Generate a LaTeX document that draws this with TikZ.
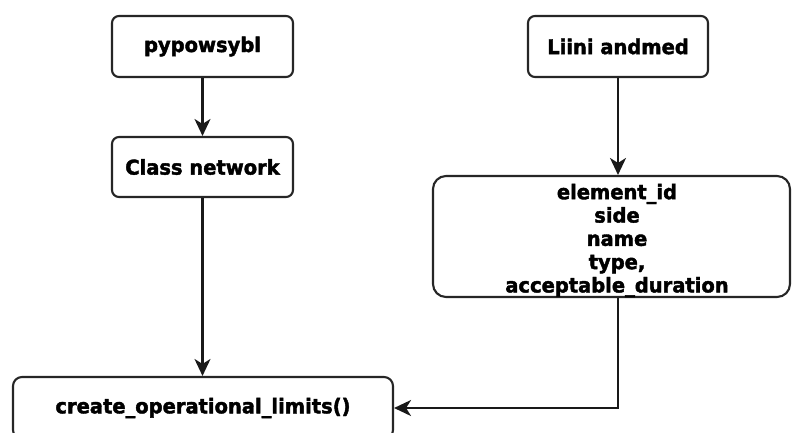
\documentclass[tikz,border=0pt]{standalone}
\usepackage{fontspec}
\setmainfont{DejaVu Sans}[BoldFeatures={FakeBold=2,FakeStretch=0.96}]
\usetikzlibrary{arrows.meta}
\tikzset{
  boxtext/.style={font=\fontsize{20.3}{23.3}\selectfont\bfseries, align=center},
  box/.style={boxtext, draw=black!85, line width=2.1pt, fill=white, inner sep=0pt},
  link/.style={draw=black!90, line width=2.1pt,
    -{Stealth[length=17pt,width=16pt,inset=5pt]}}
}
\begin{document}
\begin{tikzpicture}[x=1pt,y=-1pt]
  \useasboundingbox (0,0) rectangle (792,432);
  \clip (0,0) rectangle (792,432);

  \node[box, rounded corners=7pt, minimum width=181pt, minimum height=61pt]
    (py) at (202.5,46.5) {pypowsybl};
  \node[box, rounded corners=7pt, minimum width=181pt, minimum height=60pt]
    (net) at (202.5,167) {Class network};
  \node[box, rounded corners=7pt, minimum width=180pt, minimum height=61pt]
    (liini) at (618,46.5) {Liini andmed};
  \node[box, rounded corners=13pt, minimum width=357pt, minimum height=121pt]
    (elem) at (611.5,236.5) {};
  \node[boxtext, inner sep=0pt]
    (elemtext) at (617,240.5) {element\_id\\side\\name\\type,\\acceptable\_duration};
  \node[box, rounded corners=9pt, minimum width=380pt, minimum height=62pt]
    (ops) at (203,408) {create\_operational\_limits()};

  \coordinate (turn) at (liini.south |- ops.east);

  \draw[link] (py) -- (net);
  \draw[link] (net) -- (net |- ops.north);
  \draw[link] (liini) -- (liini.south |- elem.north);
  \draw[link] (liini.south |- elem.south) -- (turn) -- (ops.east);
\end{tikzpicture}
\end{document}
